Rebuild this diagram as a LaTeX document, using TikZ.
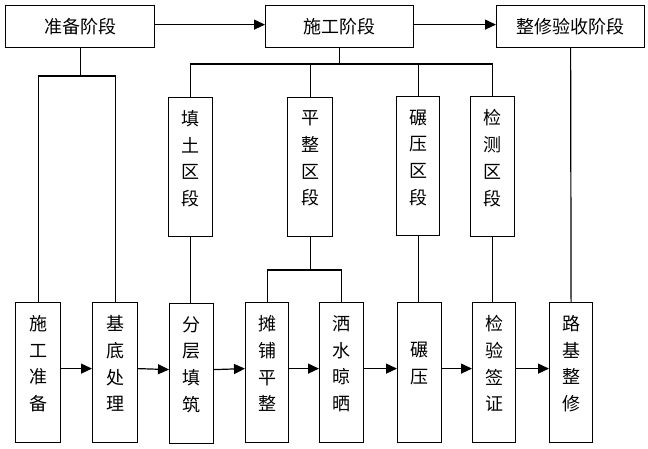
\documentclass[tikz,border=0pt]{standalone}
\usepackage{fontspec}
\newfontfamily\cjk{Noto Sans CJK SC}
\usetikzlibrary{arrows.meta}
\begin{document}
\begin{tikzpicture}[x=1pt,y=-1pt,
  box/.style={draw=black,line width=1.2pt,inner sep=0pt,anchor=north west},
  hbox/.style={box,minimum height=42pt},
  vbox/.style={box,minimum width=44pt,minimum height=140pt},
  txt/.style={font=\cjk\fontsize{18}{26.7}\selectfont,align=center,inner sep=0pt},
  ln/.style={line width=1.2pt},
  arr/.style={line width=1.2pt,-{Triangle[length=11pt,width=10pt]}}]
\useasboundingbox (0,0) rectangle (648,448);
% top row
\node[hbox,minimum width=149pt] (pre) at (5,5) {};
\node[txt] (tpre) at (pre.center) {准备阶段};
\node[hbox,minimum width=148pt] (con) at (265,5) {};
\node[txt] (tcon) at (con.center) {施工阶段};
\node[hbox,minimum width=148pt] (fin) at (496,5) {};
\node[txt] (tfin) at (fin.center) {整修验收阶段};
\draw[arr] ([yshift=2pt]pre.east) -- ([yshift=2pt]con.west);
\draw[arr] ([yshift=2pt]con.east) -- ([yshift=2pt]fin.west);
% middle row
\node[vbox,minimum height=139pt] (tt) at (168,97) {};
\node[txt] (ttt) at ([yshift=8.5pt]tt.center) {填\\土\\区\\段};
\node[vbox,minimum height=139pt,minimum width=45pt] (pz) at (287,97) {};
\node[txt] (tpz) at ([yshift=8.5pt]pz.center) {平\\整\\区\\段};
\node[vbox,minimum height=139pt,minimum width=43pt] (ny) at (396,96) {};
\node[txt] (tny) at ([yshift=8.5pt]ny.center) {碾\\压\\区\\段};
\node[vbox,minimum height=140pt] (jc) at (470,96) {};
\node[txt] (tjc) at ([yshift=8.5pt]jc.center) {检\\测\\区\\段};
% bottom row
\node[vbox,minimum width=45pt] (b1) at (15,302) {};
\node[txt] (t1) at ([yshift=9pt]b1.center) {施\\工\\准\\备};
\node[vbox,minimum width=45pt] (b2) at (92,302) {};
\node[txt] (t2) at ([yshift=9pt]b2.center) {基\\底\\处\\理};
\node[vbox] (b3) at (169,303) {};
\node[txt] (t3) at ([yshift=9pt]b3.center) {分\\层\\填\\筑};
\node[vbox,minimum width=43pt] (b4) at (245,302) {};
\node[txt] (t4) at ([yshift=9pt]b4.center) {摊\\铺\\平\\整};
\node[vbox] (b5) at (319,302) {};
\node[txt] (t5) at ([yshift=9pt]b5.center) {洒\\水\\晾\\晒};
\node[vbox] (b6) at (397,302) {};
\node[txt] (t6) at ([yshift=9pt]b6.center) {碾\\压};
\node[vbox,minimum width=43pt] (b7) at (472,302) {};
\node[txt] (t7) at ([yshift=9pt]b7.center) {检\\验\\签\\证};
\node[vbox,minimum width=43pt] (b8) at (549,302) {};
\node[txt] (t8) at ([yshift=9pt]b8.center) {路\\基\\整\\修};
% horizontal flow arrows
\foreach \a/\b in {b1/b2,b2/b3,b3/b4,b4/b5,b5/b6,b6/b7,b7/b8}
  \draw[arr] ([yshift=4pt]\a.east) -- ([yshift=4pt]\b.west);
% tree connectors
\coordinate (j1) at (pre.south |- 0,76);
\draw[ln] (pre.south) -- (j1);
\draw[ln] (b1.north) |- (j1) -| (b2.north);
\coordinate (j2) at (con.south |- 0,64);
\draw[ln] (con.south) -- (j2);
\draw[ln] (tt.north) |- (j2) -| (jc.north);
\draw[ln] (pz.north) -- (pz.north |- j2);
\draw[ln] (ny.north) -- (ny.north |- j2);
\draw[ln] (fin.south) -- (b8.north);
\draw[ln] (tt.south) -- (tt.south |- b3.north);
\coordinate (j3) at (pz.south |- 0,270);
\draw[ln] (pz.south) -- (j3);
\draw[ln] (b4.north) |- (j3) -| (b5.north);
\draw[ln] (ny.south) -- (ny.south |- b6.north);
\draw[ln] (jc.south) -- (jc.south |- b7.north);
\end{tikzpicture}
\end{document}
